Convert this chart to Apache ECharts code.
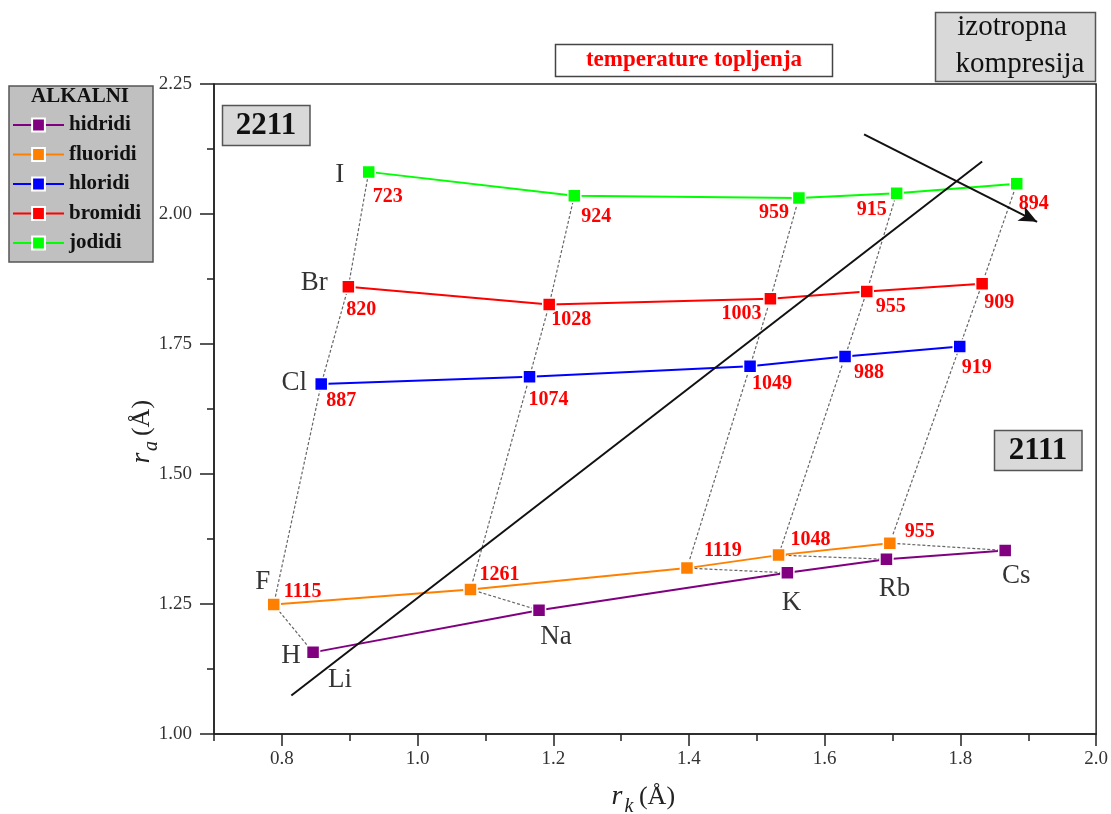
<!DOCTYPE html>
<html>
<head>
<meta charset="utf-8">
<script src="https://cdn.jsdelivr.net/npm/echarts@6/dist/echarts.min.js"></script>
<style>
  html, body { margin: 0; padding: 0; background: #fff; }
  #chart { width: 1111px; height: 814px; }
</style>
</head>
<body>
<div id="chart"></div>
<script>
// Alkali hydrides and halides: cation radius r_k against anion radius r_a
const cations = ['Li', 'Na', 'K', 'Rb', 'Cs'];
const anions = ['H', 'F', 'Cl', 'Br', 'I'];
const seriesNames = ['hidridi', 'fluoridi', 'hloridi', 'bromidi', 'jodidi'];

const hidridiX  = [0.846, 1.179, 1.545, 1.691, 1.866];
const hidridiY  = [1.157, 1.238, 1.310, 1.336, 1.353];
const fluoridiX = [0.788, 1.078, 1.397, 1.532, 1.696];
const fluoridiY = [1.249, 1.278, 1.319, 1.344, 1.367];
const hloridiX  = [0.858, 1.165, 1.490, 1.630, 1.799];
const hloridiY  = [1.673, 1.687, 1.707, 1.726, 1.745];
const bromidiX  = [0.898, 1.194, 1.520, 1.662, 1.832];
const bromidiY  = [1.860, 1.826, 1.837, 1.851, 1.866];
const jodidiX   = [0.928, 1.231, 1.562, 1.706, 1.883];
const jodidiY   = [2.081, 2.035, 2.031, 2.040, 2.058];

// melting temperatures (°C)
const fluoridiT = [1115, 1261, 1119, 1048, 955];
const hloridiT  = [887, 1074, 1049, 988, 919];
const bromidiT  = [820, 1028, 1003, 955, 909];
const jodidiT   = [723, 924, 959, 915, 894];

// guide lines
const diagLine  = [[0.814, 1.074], [1.832, 2.101]];
const arrowLine = [[1.658, 2.153], [1.913, 1.985]];

// axis ticks
const xMajorTicks = [0.8, 1.0, 1.2, 1.4, 1.6, 1.8, 2.0];
const xMinorTicks = [0.7, 0.9, 1.1, 1.3, 1.5, 1.7, 1.9];
const yMin = 1.0, yMax = 2.25, yStep = 0.25;

const FONT = '"Liberation Serif", "DejaVu Serif", serif';
const colors = ['#800080', '#ff8000', '#0000ff', '#ff0000', '#00ff00'];
const xs = [hidridiX, fluoridiX, hloridiX, bromidiX, jodidiX];
const ys = [hidridiY, fluoridiY, hloridiY, bromidiY, jodidiY];
const temps = [null, fluoridiT, hloridiT, bromidiT, jodidiT];

// label placement around each marker (pixels)
const tempOffsets = [
  null,
  [[29, -13], [29, -15], [36, -17], [32, -15], [30, -11]],
  [[20, 17], [19, 23], [22, 17], [24, 16], [17, 21]],
  [[13, 23], [22, 15], [-29, 15], [24, 15], [17, 19]],
  [[19, 25], [22, 21], [-25, 15], [-25, 17], [17, 20]]
];
const anionOffsets = [[-22, 4], [-11, -23], [-27, -1], [-34, -4], [-29, 3]];
const cationOffsets = [[27, 28], [17, 27], [4, 30], [8, 30], [11, 25]];

const series = [];

// dotted connectors linking the compounds of each alkali metal
cations.forEach((c, i) => {
  series.push({
    type: 'line',
    name: 'veza-' + c,
    silent: true,
    symbol: 'none',
    z: 1,
    lineStyle: { color: '#666', width: 1.2, type: [3, 2] },
    data: xs.map((arr, k) => [arr[i], ys[k][i]])
  });
});

// compound series
seriesNames.forEach((name, k) => {
  series.push({
    type: 'line',
    name: name,
    z: 3,
    symbol: 'rect',
    symbolSize: 13,
    lineStyle: { color: colors[k], width: 2 },
    itemStyle: { color: colors[k], borderColor: '#ffffff', borderWidth: 1.5 },
    data: xs[k].map((x, i) => {
      const item = { value: [x, ys[k][i]] };
      if (temps[k]) {
        item.label = {
          show: true,
          position: 'inside',
          offset: tempOffsets[k][i],
          formatter: String(temps[k][i]),
          color: '#ff0000',
          textBorderWidth: 0,
          fontFamily: FONT,
          fontWeight: 'bold',
          fontSize: 20
        };
      }
      return item;
    })
  });
});

// element symbols next to the markers
const nameItems = [];
anions.forEach((a, k) => {
  nameItems.push({ value: [xs[k][0], ys[k][0]], label: { formatter: a, offset: anionOffsets[k] } });
});
cations.forEach((c, i) => {
  nameItems.push({ value: [hidridiX[i], hidridiY[i]], label: { formatter: c, offset: cationOffsets[i] } });
});
series.push({
  type: 'scatter',
  name: 'simboli',
  silent: true,
  symbolSize: 0,
  z: 4,
  label: { show: true, position: 'inside', color: '#000', textBorderWidth: 0, fontFamily: FONT, fontSize: 27 },
  data: nameItems
});

// straight guide line and isotropic-compression arrow
series.push({
  type: 'line', name: 'dijagonala', data: [], silent: true,
  markLine: {
    silent: true, symbol: ['none', 'none'], label: { show: false },
    lineStyle: { color: '#111', width: 2, type: 'solid' },
    data: [[{ coord: diagLine[0] }, { coord: diagLine[1] }]]
  }
});
series.push({
  type: 'line', name: 'strelica', data: [], silent: true,
  markLine: {
    silent: true, symbol: ['none', 'arrow'], symbolSize: [12, 18], label: { show: false },
    lineStyle: { color: '#111', width: 2, type: 'solid' },
    data: [[{ coord: arrowLine[0] }, { coord: arrowLine[1] }]]
  }
});

const chart = echarts.init(document.getElementById('chart'), null, { renderer: 'canvas' });
chart.setOption({
  animation: false,
  backgroundColor: '#ffffff',
  grid: {
    left: 214, top: 84, width: 883, height: 650,
    show: true, borderColor: '#222', borderWidth: 1.5, backgroundColor: 'transparent'
  },
  legend: {
    data: seriesNames,
    orient: 'vertical',
    left: 12, top: 114,
    padding: 0,
    itemWidth: 51, itemHeight: 16, itemGap: 7.5,
    textStyle: { fontFamily: FONT, fontWeight: 'bold', fontSize: 21, lineHeight: 22, color: '#111' },
    selectedMode: false
  },
  xAxis: [{
    type: 'value', min: 0.7, max: 2.0,
    axisLine: { show: true, onZero: false, lineStyle: { color: '#222', width: 1.5 } },
    axisTick: { show: true, customValues: xMajorTicks, length: 12, lineStyle: { color: '#222', width: 1.5 } },
    axisLabel: {
      customValues: xMajorTicks, margin: 16,
      formatter: v => v.toFixed(1),
      fontFamily: FONT, fontSize: 19, color: '#333'
    },
    splitLine: { show: false }
  }, {
    type: 'value', min: 0.7, max: 2.0, position: 'bottom',
    axisLine: { show: false },
    axisTick: { show: true, customValues: xMinorTicks, length: 7, lineStyle: { color: '#222', width: 1.5 } },
    axisLabel: { show: false },
    splitLine: { show: false }
  }],
  yAxis: {
    type: 'value', min: yMin, max: yMax, interval: yStep,
    axisLine: { show: true, onZero: false, lineStyle: { color: '#222', width: 1.5 } },
    axisTick: { show: true, length: 14, lineStyle: { color: '#222', width: 1.5 } },
    minorTick: { show: true, splitNumber: 2, length: 7, lineStyle: { color: '#222', width: 1.5 } },
    axisLabel: { margin: 22, formatter: v => v.toFixed(2), fontFamily: FONT, fontSize: 19, color: '#333' },
    splitLine: { show: false }
  },
  graphic: [
    // legend panel
    { type: 'rect', z: 0, shape: { x: 9, y: 86, width: 144, height: 176 },
      style: { fill: '#c0c0c0', stroke: '#555', lineWidth: 1.5 } },
    { type: 'text', z: 5, x: 80, y: 97,
      style: { text: 'ALKALNI', font: 'bold 21px ' + FONT, fill: '#111', align: 'center', verticalAlign: 'middle' } },
    // structure type tags
    { type: 'rect', z: 5, shape: { x: 222.5, y: 105.5, width: 87.5, height: 40 },
      style: { fill: '#d9d9d9', stroke: '#555', lineWidth: 1.5 } },
    { type: 'text', z: 6, x: 266, y: 126,
      style: { text: '2211', font: 'bold 31px ' + FONT, fill: '#111', align: 'center', verticalAlign: 'middle' } },
    { type: 'rect', z: 5, shape: { x: 994.5, y: 430.5, width: 87.5, height: 40 },
      style: { fill: '#d9d9d9', stroke: '#555', lineWidth: 1.5 } },
    { type: 'text', z: 6, x: 1038, y: 451,
      style: { text: '2111', font: 'bold 31px ' + FONT, fill: '#111', align: 'center', verticalAlign: 'middle' } },
    // header boxes
    { type: 'rect', z: 5, shape: { x: 555.5, y: 44.5, width: 277, height: 32 },
      style: { fill: '#ffffff', stroke: '#444', lineWidth: 1.5 } },
    { type: 'text', z: 6, x: 694, y: 60,
      style: { text: 'temperature topljenja', font: 'bold 23px ' + FONT, fill: '#ff0000', align: 'center', verticalAlign: 'middle' } },
    { type: 'rect', z: 5, shape: { x: 935.5, y: 12.5, width: 160, height: 69 },
      style: { fill: '#d9d9d9', stroke: '#555', lineWidth: 1.5 } },
    { type: 'text', z: 6, x: 1012, y: 27,
      style: { text: 'izotropna', font: '29px ' + FONT, fill: '#111', align: 'center', verticalAlign: 'middle' } },
    { type: 'text', z: 6, x: 1020, y: 64,
      style: { text: 'kompresija', font: '29px ' + FONT, fill: '#111', align: 'center', verticalAlign: 'middle' } },
    // x axis title r_k (Å)
    { type: 'group', x: 643, y: 797, children: [
      { type: 'text', x: -26, y: 0, style: { text: 'r', font: 'italic 28px ' + FONT, fill: '#222', align: 'center', verticalAlign: 'middle' } },
      { type: 'text', x: -14, y: 10, style: { text: 'k', font: 'italic 20px ' + FONT, fill: '#222', align: 'center', verticalAlign: 'middle' } },
      { type: 'text', x: 14, y: 0, style: { text: '(Å)', font: '26px ' + FONT, fill: '#222', align: 'center', verticalAlign: 'middle' } }
    ] },
    // y axis title r_a (Å)
    { type: 'group', x: 142, y: 432, rotation: Math.PI / 2, children: [
      { type: 'text', x: -26, y: 0, style: { text: 'r', font: 'italic 28px ' + FONT, fill: '#222', align: 'center', verticalAlign: 'middle' } },
      { type: 'text', x: -14, y: 10, style: { text: 'a', font: 'italic 20px ' + FONT, fill: '#222', align: 'center', verticalAlign: 'middle' } },
      { type: 'text', x: 14, y: 0, style: { text: '(Å)', font: '26px ' + FONT, fill: '#222', align: 'center', verticalAlign: 'middle' } }
    ] }
  ],
  series: series
});
</script>
</body>
</html>
